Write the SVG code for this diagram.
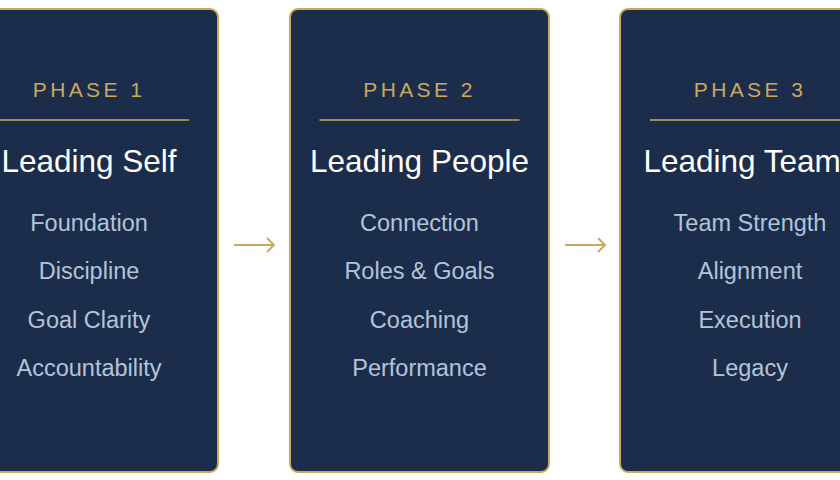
<svg xmlns="http://www.w3.org/2000/svg" width="840" height="480" viewBox="0 0 840 480">
<style>
.card{fill:#1b2d4b;stroke:#c9a95c;stroke-width:2}
.ph{font-family:"Liberation Sans",Arial,sans-serif;font-size:21px;fill:#c9a95c;letter-spacing:3.4px;text-anchor:middle}
.tt{font-family:"Liberation Sans",Arial,sans-serif;font-size:31.5px;fill:#ffffff;text-anchor:middle}
.it{font-family:"Liberation Sans",Arial,sans-serif;font-size:23.5px;fill:#b4c4d8;text-anchor:middle}
.dv{stroke:#c9a95c;stroke-width:1.5}
.ar{stroke:#c9a95c;stroke-width:2;fill:none}
</style>
<rect width="840" height="480" fill="#ffffff"/>
<g id="phase1">
<rect class="card" x="-41" y="9" width="259" height="463" rx="8"/>
<text class="ph" x="89" y="97">PHASE 1</text>
<line class="dv" x1="-11" y1="120" x2="189" y2="120"/>
<text class="tt" x="89" y="172">Leading Self</text>
<text class="it" x="89" y="231">Foundation</text>
<text class="it" x="89" y="279">Discipline</text>
<text class="it" x="89" y="328">Goal Clarity</text>
<text class="it" x="89" y="376">Accountability</text>
</g>
<g id="phase2">
<rect class="card" x="290" y="9" width="259" height="463" rx="8"/>
<text class="ph" x="419.5" y="97">PHASE 2</text>
<line class="dv" x1="319.5" y1="120" x2="519.5" y2="120"/>
<text class="tt" x="419.5" y="172">Leading People</text>
<text class="it" x="419.5" y="231">Connection</text>
<text class="it" x="419.5" y="279">Roles &amp; Goals</text>
<text class="it" x="419.5" y="328">Coaching</text>
<text class="it" x="419.5" y="376">Performance</text>
</g>
<g id="phase3">
<rect class="card" x="620" y="9" width="259" height="463" rx="8"/>
<text class="ph" x="750" y="97">PHASE 3</text>
<line class="dv" x1="650" y1="120" x2="850" y2="120"/>
<text class="tt" x="750" y="172">Leading Teams</text>
<text class="it" x="750" y="231">Team Strength</text>
<text class="it" x="750" y="279">Alignment</text>
<text class="it" x="750" y="328">Execution</text>
<text class="it" x="750" y="376">Legacy</text>
</g>
<g id="connectors">
<path class="ar" d="M234 245H274M267 238L274 245L267 252"/>
<path class="ar" d="M565 245H605M598 238L605 245L598 252"/>
</g>
</svg>
